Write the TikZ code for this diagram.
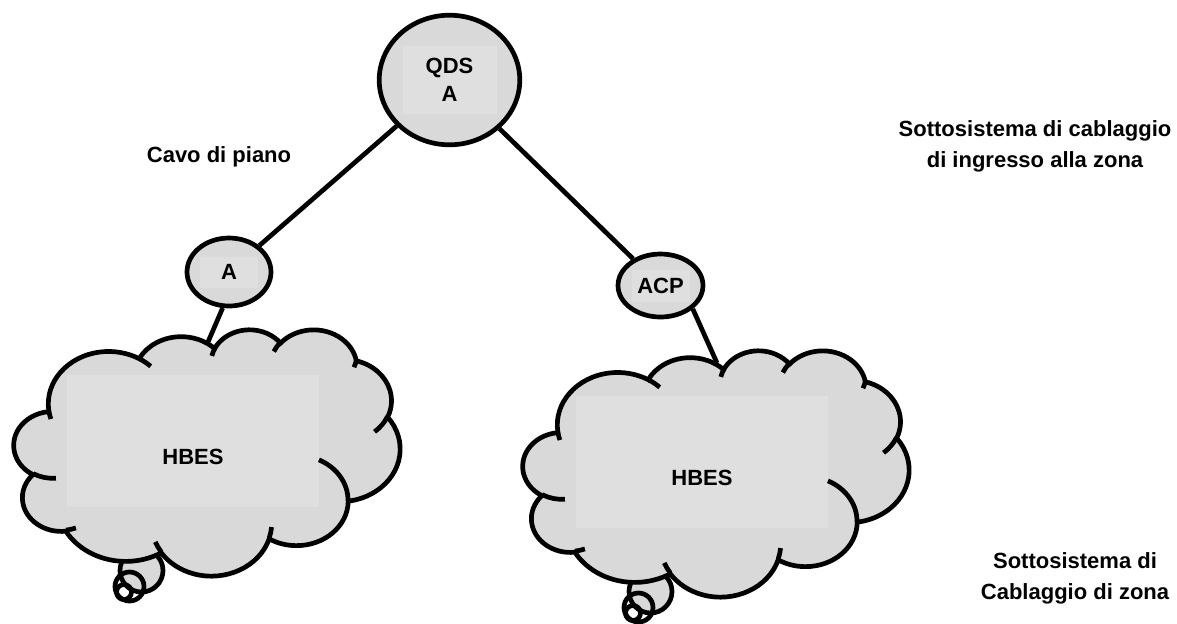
\documentclass[tikz,border=0pt]{standalone}
\usepackage{fontspec}
\setmainfont{Liberation Sans}
\usetikzlibrary{shapes.geometric}

\definecolor{cloudgray}{RGB}{217,217,217}
\definecolor{boxgray}{RGB}{223,223,223}

\begin{document}
\begin{tikzpicture}[x=0.5pt,y=-0.5pt,line width=2.35pt,
  site node/.style={ellipse,draw,fill=cloudgray,inner sep=0pt,font=\bfseries\fontsize{11}{14}\selectfont,align=center},
  text box/.style 2 args={path picture={\fill[boxgray] ([xshift=-#1/2,yshift=-#2/2]path picture bounding box.center) rectangle ++(#1,#2);}},
  label text/.style={font=\bfseries\fontsize{11}{15.5}\selectfont,align=center},
  ooarc/.style n args={4}{x radius=#1,y radius=#2,
    start angle={atan2((#1)*sin(#3),(#2)*cos(#3))},
    delta angle={mod(atan2((#1)*sin((#3)+(#4)),(#2)*cos((#3)+(#4)))-atan2((#1)*sin(#3),(#2)*cos(#3))+720,360)}},
  hbes cloud/.pic={
    \filldraw[fill=cloudgray] (127.5,241.5) circle[radius=21.5];
    \draw (115.5,257.5) circle[radius=14.5];
    \draw (110,263) circle[radius=7.5];
    \begin{scope}[x=4.4676pt,y=-2.85pt]
      \filldraw[fill=cloudgray] (3.900,14.370)
        arc[ooarc={6.753}{9.190}{-190.4875}{123.7805}]
        arc[ooarc={5.333}{7.267}{-144.1024}{89.9452}]
        arc[ooarc={4.365}{5.945}{-145.8079}{99.7230}]
        arc[ooarc={4.857}{6.595}{-130.9861}{117.2417}]
        arc[ooarc={5.333}{7.273}{-78.7089}{109.0269}]
        arc[ooarc={6.775}{9.220}{-46.2673}{130.2690}]
        arc[ooarc={5.785}{7.867}{0.6250}{114.0333}]
        arc[ooarc={6.752}{9.215}{22.4516}{115.1726}]
        arc[ooarc={7.720}{10.543}{66.2426}{75.7110}]
        arc[ooarc={4.360}{5.918}{-274.9421}{146.7356}]
        arc[ooarc={4.345}{5.945}{-246.8285}{152.5189}]
        -- cycle;
    \end{scope}
    \fill[boxgray] (53,46) rectangle (305,178);
    \begin{scope}[x=4.4676pt,y=-2.85pt]
      \draw (4.693,26.177) arc[ooarc={4.345}{5.945}{86.7420}{26.4295}]
        (6.928,34.899) arc[ooarc={4.360}{5.918}{73.6105}{11.4475}]
        (16.478,39.090) arc[ooarc={6.752}{9.215}{137.6242}{14.0811}]
        (28.827,34.751) arc[ooarc={6.752}{9.215}{6.4533}{15.9984}]
        (34.129,22.954) arc[ooarc={5.785}{7.867}{-70.2924}{70.9174}]
        (41.798,15.354) arc[ooarc={5.333}{7.273}{30.3180}{27.7515}]
        (38.324,5.426) arc[ooarc={4.857}{6.595}{13.7443}{14.8589}]
        (29.078,3.952) arc[ooarc={4.857}{6.595}{-149.1815}{18.1954}]
        (22.141,4.720) arc[ooarc={4.365}{5.945}{-163.4943}{17.6864}]
        (14.000,5.192) arc[ooarc={6.753}{9.190}{-66.7070}{12.3194}]
        (4.127,15.789) arc[ooarc={6.753}{9.190}{157.6544}{11.8582}];
    \end{scope}
    \node[label text] (-label) at (179,128) {#1};
    \coordinate (-top) at (194,13);
  }]
  \useasboundingbox (0,0) rectangle (1177,623);

  \node[site node,minimum width=70.3pt,minimum height=64.8pt,text box={47pt}{34pt}] (qds) at (449.5,80) {QDS\\A};
  \node[site node,minimum width=42pt,minimum height=34pt,text box={29pt}{15.5pt}] (a) at (229,272) {A};
  \node[site node,minimum width=42.5pt,minimum height=31.5pt,text box={29pt}{16pt}] (acp) at (660.5,285.5) {ACP};
  \pic (c1) at (14,329) {hbes cloud=HBES};
  \pic (c2) at (523,350) {hbes cloud=HBES};
  \node[label text] (cavo) at (219,157) {Cavo di piano};
  \node[label text] (ingresso) at (1035,146.5) {Sottosistema di cablaggio\\di ingresso alla zona};
  \node[label text] (zona) at (1075,578) {Sottosistema di\\Cablaggio di zona};

\path
  (qds) edge (a)
  (qds) edge (acp)
  (a.-100) edge (c1-top)
  (acp.-36) edge (c2-top)
;
\end{tikzpicture}
\end{document}
